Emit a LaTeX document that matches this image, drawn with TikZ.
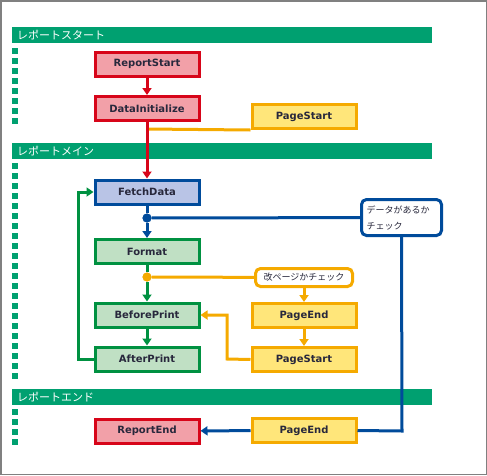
\documentclass[tikz,border=0pt]{standalone}
\usepackage{fontspec}
\setmainfont{DejaVu Sans}
\newfontfamily\jpfont{Noto Sans CJK JP}
\usepackage{tikz}
\usetikzlibrary{arrows.meta, calc, positioning}
\definecolor{bargreen}{RGB}{0,160,112}
\definecolor{repred}{RGB}{215,5,25}
\definecolor{reppink}{RGB}{242,160,168}
\definecolor{pageorange}{RGB}{245,170,0}
\definecolor{pageyellow}{RGB}{255,230,122}
\definecolor{mainblue}{RGB}{0,75,155}
\definecolor{mainlblue}{RGB}{185,196,230}
\definecolor{maingreen}{RGB}{0,145,65}
\definecolor{mainlgreen}{RGB}{192,224,196}
\definecolor{textdark}{RGB}{40,40,60}

\begin{document}
\begin{tikzpicture}[x=1pt, y=-1pt,
        box/.style={draw, line width=3pt, minimum width=104pt, minimum height=24pt,
            inner sep=0pt, text=textdark, font=\fontsize{10}{12}\selectfont\bfseries},
        redbox/.style={box, draw=repred, fill=reppink},
        pagebox/.style={box, draw=pageorange, fill=pageyellow},
        bluebox/.style={box, draw=mainblue, fill=mainlblue},
        greenbox/.style={box, draw=maingreen, fill=mainlgreen},
        check/.style={draw, line width=3pt, rounded corners=5pt, fill=white, inner sep=0pt,
            text=textdark, align=left, font=\jpfont\fontsize{9}{16}\selectfont},
        bartext/.style={anchor=west, text=white, inner sep=0pt, font=\jpfont\fontsize{11}{12}\selectfont},
        conn/.style={line width=3pt},
        arr/.style={conn, -{Triangle[width=9pt, length=7pt]}},
        dot/.style={circle, inner sep=0pt, minimum size=9pt}]
        \useasboundingbox (0,0) rectangle (487,475);
        % Frame
        \draw[gray, line width=1.5pt] (0.75,0.75) rectangle (486.25,474.25);

        % Sections
        \fill[bargreen] (12,27) rectangle (432,43);
        \node[bartext] (secstart) at (17,35) {レポートスタート};
        \fill[bargreen] (12,143) rectangle (432,159);
        \node[bartext] (secmain) at (17,151) {レポートメイン};
        \fill[bargreen] (12,389) rectangle (432,405);
        \node[bartext] (secend) at (17,397) {レポートエンド};
        \foreach \y in {48,58,...,118} \fill[bargreen] (12,\y) rectangle ++(6,6);
        \foreach \y in {163,173,...,373} \fill[bargreen] (12,\y) rectangle ++(6,6);
        \foreach \y in {409,419,...,439} \fill[bargreen] (12,\y) rectangle ++(6,6);

        % Report start
        \node[redbox] (rstart) at (147,64) {ReportStart};
        \node[redbox] (dinit) at (147,108.5) {DataInitialize};
        \node[pagebox] (pstart1) at (304,116.5) {PageStart};

        % Report main
        \node[bluebox] (fetch) at (147,192) {FetchData};
        \node[greenbox] (format) at (147,251.5) {Format};
        \node[greenbox] (before) at (147,315) {BeforePrint};
        \node[greenbox] (after) at (147,359) {AfterPrint};
        \node[check, draw=mainblue, minimum width=80pt, minimum height=36pt, text width=70pt]
            (datacheck) at (401.5,217.5) {データがあるか\\チェック};
        \node[check, draw=pageorange, minimum width=97pt, minimum height=18pt] (pagecheck) at (304,277.5)
            {改ページかチェック};
        \node[pagebox] (pend1) at (304,315.5) {PageEnd};
        \node[pagebox] (pstart2) at (304,359.5) {PageStart};

        % Report end
        \node[redbox] (rend) at (147,431) {ReportEnd};
        \node[pagebox] (pend2) at (304,430.5) {PageEnd};

        % Junctions
        \coordinate (jpage) at (147,129);
        \node[dot, fill=mainblue] (jdata) at (147,218) {};
        \node[dot, fill=pageorange] (jformat) at (147,277) {};
        \coordinate (jdown) at (402,431);
        \coordinate (jloop) at (78,359);
        \coordinate (jback) at (227,359);

        % Connectors
        \draw[arr, repred] (rstart) -- (dinit);
        \draw[conn, pageorange] (pstart1.south west) -- (jpage);
        \draw[arr, repred] (dinit) -- (fetch);
        \draw[conn, mainblue] (fetch) -- (jdata);
        \draw[arr, mainblue] (jdata) -- (format);
        \draw[conn, mainblue] (jdata) -- (datacheck);
        \draw[conn, mainblue] (datacheck.south) -- (jdown) -- (pend2.east);
        \draw[arr, mainblue] (pend2) -- (rend);
        \draw[conn, maingreen] (format) -- (jformat);
        \draw[arr, maingreen] (jformat) -- (before);
        \draw[conn, pageorange] (jformat) -- (pagecheck);
        \draw[arr, pageorange] (pagecheck) -- (pend1);
        \draw[arr, pageorange] (pend1) -- (pstart2);
        \draw[arr, pageorange] (pstart2.west) -- (jback) |- (before.east);
        \draw[arr, maingreen] (before) -- (after);
        \draw[arr, maingreen] (after.west) -- (jloop) |- (fetch.west);
        \node[dot, fill=mainblue] at (jdata) {};
        \node[dot, fill=pageorange] at (jformat) {};
    \end{tikzpicture}
\end{document}
